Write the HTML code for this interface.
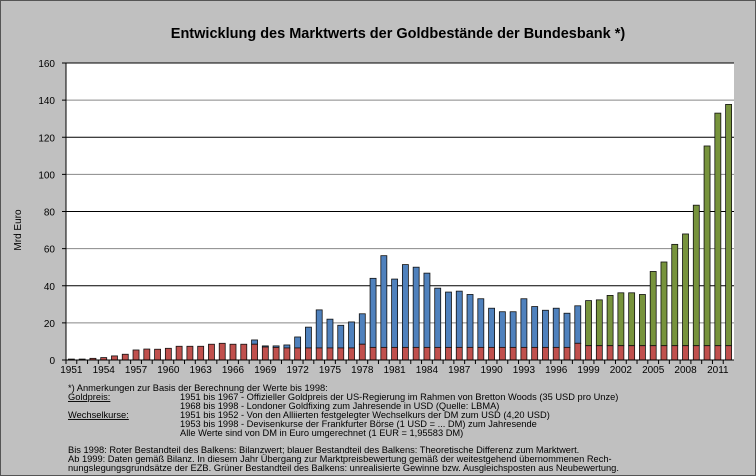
<!DOCTYPE html>
<html><head><meta charset="utf-8"><style>
body{margin:0;width:756px;height:476px;overflow:hidden;background:#c0c0c0;font-family:"Liberation Sans",sans-serif}
svg{display:block}
</style></head><body>
<svg width="756" height="476">
<rect x="0.5" y="0.5" width="755" height="475" fill="#c0c0c0" stroke="#555"/>
<text x="398" y="38" text-anchor="middle" font-size="14.5" font-weight="bold">Entwicklung des Marktwerts der Goldbestände der Bundesbank *)</text>
<rect x="66" y="63" width="668" height="297" fill="#fff"/>
<g id="grid"></g><g id="bars"></g><g id="axes"></g>
<text transform="translate(21,230) rotate(-90)" text-anchor="middle" font-size="10">Mrd Euro</text>
<g font-size="9.3" fill="#000">
<text x="68" y="391">*)  Anmerkungen zur Basis der Berechnung der Werte bis 1998:</text>
<text x="68" y="400" text-decoration="underline">Goldpreis:</text>
<text x="180" y="400">1951 bis 1967 - Offizieller Goldpreis der US-Regierung im Rahmen von Bretton Woods (35 USD pro Unze)</text>
<text x="180" y="409">1968 bis 1998 - Londoner Goldfixing zum Jahresende in USD (Quelle: LBMA)</text>
<text x="68" y="418" text-decoration="underline">Wechselkurse:</text>
<text x="180" y="418">1951 bis 1952 - Von den Alliierten festgelegter Wechselkurs der DM zum USD (4,20 USD)</text>
<text x="180" y="427">1953 bis 1998 - Devisenkurse der Frankfurter Börse (1 USD = ... DM) zum Jahresende</text>
<text x="180" y="436">Alle Werte sind von DM in Euro umgerechnet  (1 EUR = 1,95583 DM)</text>
<text x="68" y="453">Bis 1998: Roter Bestandteil des Balkens: Bilanzwert; blauer Bestandteil des Balkens: Theoretische Differenz zum Marktwert.</text>
<text x="68" y="462">Ab 1999: Daten gemäß Bilanz. In diesem Jahr Übergang zur Marktpreisbewertung gemäß der weitestgehend übernommenen Rech-</text>
<text x="68" y="471">nungslegungsgrundsätze der EZB. Grüner Bestandteil des Balkens: unrealisierte Gewinne bzw. Ausgleichsposten aus Neubewertung.</text>
</g>
</svg>
<script>
const years=[];for(let y=1951;y<=2012;y++)years.push(y);
const totals=[0.5,0.5,0.9,1.3,2.2,3.1,5.4,5.9,5.8,6.3,7.4,7.4,7.4,8.5,9,8.5,8.5,10.8,7.6,7.6,
8.1,12.4,17.7,27,22,18.7,20.5,24.9,44,56.2,43.6,51.4,50,46.8,38.7,36.6,37.1,35.3,33,27.9,
26,26,33,28.8,26.8,27.9,25.2,29.2,32,32.4,34.8,36.2,36.2,35.3,47.7,52.8,62.3,67.9,83.4,115.3,133,137.7];
const bookValues=[0.5,0.5,0.9,1.3,2.2,3.1,5.4,5.9,5.8,6.3,7.4,7.4,7.4,8.5,9,8.5,8.5,8.5,7,6.8,
6.5,6.5,6.5,6.5,6.5,6.5,6.5,8.5,6.8,6.8,6.8,6.8,6.8,6.8,6.8,6.8,6.8,6.8,6.8,6.8,
6.8,6.8,6.8,6.8,6.8,6.8,6.8,9,7.7,7.7,7.7,7.7,7.7,7.7,7.7,7.7,7.7,7.7,7.7,7.7,7.7,7.7];
const yTicks=[0,20,40,60,80,100,120,140,160];
const NS="http://www.w3.org/2000/svg";
const x0=66,x1=734,y0=360,y1=63,slot=(x1-x0)/years.length,bw=6;
const yS=v=>y0-(v/160)*(y0-y1);
const xS=i=>x0+slot*(i+0.5);
function mk(t,a,p){const e=document.createElementNS(NS,t);for(const k in a)e.setAttribute(k,a[k]);p.appendChild(e);return e;}
const grid=document.getElementById('grid'),bars=document.getElementById('bars'),axes=document.getElementById('axes');
yTicks.forEach(v=>{
 const l=mk('line',{x1:x0,x2:x1,y1:yS(v),y2:yS(v),stroke:(v%40===0?'#000':'#888'),'stroke-width':1},grid);
 
 
 const t=mk('text',{x:55,y:yS(v)+4,'text-anchor':'end','font-size':10},axes);t.textContent=v;
 
 
 mk('line',{x1:x0-4,x2:x0,y1:yS(v),y2:yS(v),stroke:'#000'},axes);
});
years.forEach((yr,i)=>{
 const cx=xS(i),tot=totals[i],bk=Math.min(bookValues[i],tot);
 const top=yr>=1999?'#77933c':'#4f81bd';
 if(tot>bk){const r=mk('rect',{x:cx-bw/2,y:yS(tot),width:bw,height:yS(bk)-yS(tot),fill:top,stroke:'#111','stroke-width':0.8},bars);
  
  }
 const b=mk('rect',{x:cx-bw/2,y:yS(bk),width:bw,height:y0-yS(bk),fill:'#c0504d',stroke:'#111','stroke-width':0.8},bars);
 
 
 mk('line',{x1:x0+slot*i,x2:x0+slot*i,y1:y0,y2:y0+4,stroke:'#000'},axes);
 if((yr-1951)%3===0){const t=mk('text',{x:cx,y:373,'text-anchor':'middle','font-size':10},axes);t.textContent=yr;
  
  }
});
mk('line',{x1:x0,x2:x0,y1:y1,y2:y0,stroke:'#000'},axes);
mk('line',{x1:x0,x2:x1,y1:y0,y2:y0,stroke:'#000'},axes);
</script>
</body></html>
